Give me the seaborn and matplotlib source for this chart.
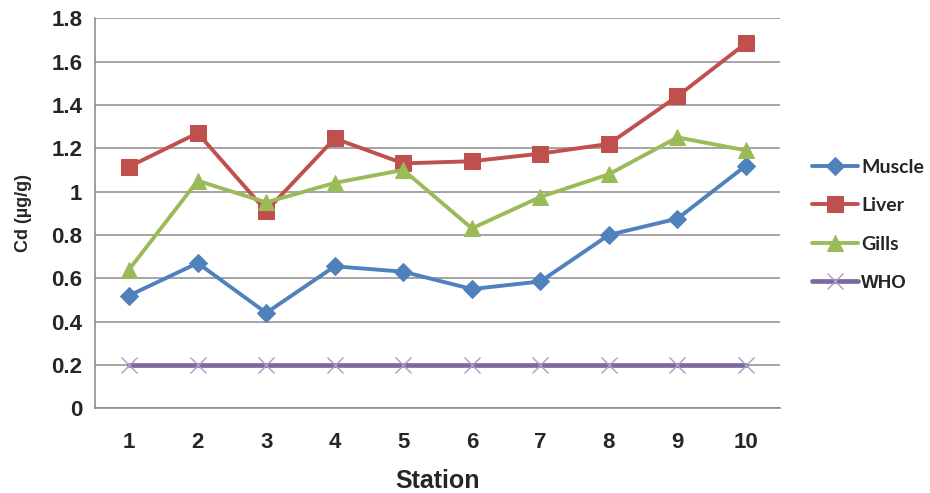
import pandas as pd
import numpy as np
import matplotlib
matplotlib.use('Agg')
import matplotlib.pyplot as plt
import seaborn as sns

# Data
stations = [1, 2, 3, 4, 5, 6, 7, 8, 9, 10]
muscle = [0.52, 0.67, 0.44, 0.655, 0.63, 0.55, 0.585, 0.80, 0.875, 1.12]
liver = [1.115, 1.27, 0.91, 1.245, 1.13, 1.14, 1.175, 1.22, 1.44, 1.685]
gills = [0.64, 1.05, 0.95, 1.04, 1.10, 0.83, 0.975, 1.08, 1.25, 1.19]
who = [0.2, 0.2, 0.2, 0.2, 0.2, 0.2, 0.2, 0.2, 0.2, 0.2]

series = {'Muscle': muscle, 'Liver': liver, 'Gills': gills, 'WHO': who}
colors = {'Muscle': '#4F81BD', 'Liver': '#C0504D', 'Gills': '#9BBB59', 'WHO': '#7B6A9E'}
markers = {'Muscle': 'D', 'Liver': 's', 'Gills': '^', 'WHO': 'x'}
msizes = {'Muscle': 9, 'Liver': 11, 'Gills': 11, 'WHO': 12}

df = pd.DataFrame({'Station': stations * 4,
                   'value': muscle + liver + gills + who,
                   'Tissue': sum([[k] * len(stations) for k in series], [])})

sns.set_style('white')
plt.rcParams['font.family'] = ['Liberation Sans', 'DejaVu Sans']

fig = plt.figure(figsize=(9.3, 4.93), dpi=100)
ax = fig.add_axes([0.102, 0.172, 0.737, 0.791])

for name in series:
    sub = df[df['Tissue'] == name]
    if name == 'WHO':
        sns.lineplot(data=sub, x='Station', y='value', ax=ax, color=colors[name],
                     linewidth=3.4, marker=markers[name], markersize=msizes[name],
                     markeredgecolor='#A99BC4', markeredgewidth=1.0, label=name,
                     zorder=3)
    else:
        sns.lineplot(data=sub, x='Station', y='value', ax=ax, color=colors[name],
                     linewidth=2.8, marker=markers[name], markersize=msizes[name],
                     markeredgecolor=colors[name], label=name, zorder=4)

ax.set_xlim(0.5, 10.5)
ax.set_ylim(0, 1.8)
yt = np.arange(0, 1.81, 0.2)
ax.set_yticks(yt)
ax.set_yticklabels(['0' if v == 0 else ('1' if abs(v - 1) < 1e-9 else f'{v:.1f}')
                    for v in yt], fontsize=16, fontweight='bold')
ax.set_xticks(stations)
ax.set_xticklabels([str(s) for s in stations], fontsize=16, fontweight='bold')
ax.set_xticks(np.arange(0.5, 10.6, 1), minor=True)
ax.tick_params(axis='x', which='major', length=0, pad=17)
ax.tick_params(axis='x', which='minor', length=5, color='#868686', width=1, direction='out')
ax.tick_params(axis='y', which='major', length=5, color='#868686', width=1, direction='out', pad=4)

ax.grid(axis='y', color='#8C8C8C', linewidth=1.1)
ax.set_axisbelow(True)
for side in ['top', 'right']:
    ax.spines[side].set_visible(False)
for side in ['left', 'bottom']:
    ax.spines[side].set_color('#868686')
    ax.spines[side].set_linewidth(1.1)

ax.set_xlabel('Station', fontsize=18, fontweight='bold', labelpad=12)
ax.set_ylabel('Cd (µg/g)', fontsize=13, fontweight='bold', labelpad=14)

handles, labels = ax.get_legend_handles_labels()
ax.legend_.remove()
leg = fig.legend(handles, labels, loc='upper left', bbox_to_anchor=(0.873, 0.678),
                 frameon=False, prop={'family': 'Lato', 'weight': 'bold', 'size': 14},
                 handlelength=2.35, labelspacing=1.1, handletextpad=0.2,
                 borderpad=0, borderaxespad=0)
leg.get_texts()[3].set_fontfamily('Liberation Sans')
leg.get_texts()[3].set_fontsize(13.5)

fig.savefig('out.png', dpi=100)
